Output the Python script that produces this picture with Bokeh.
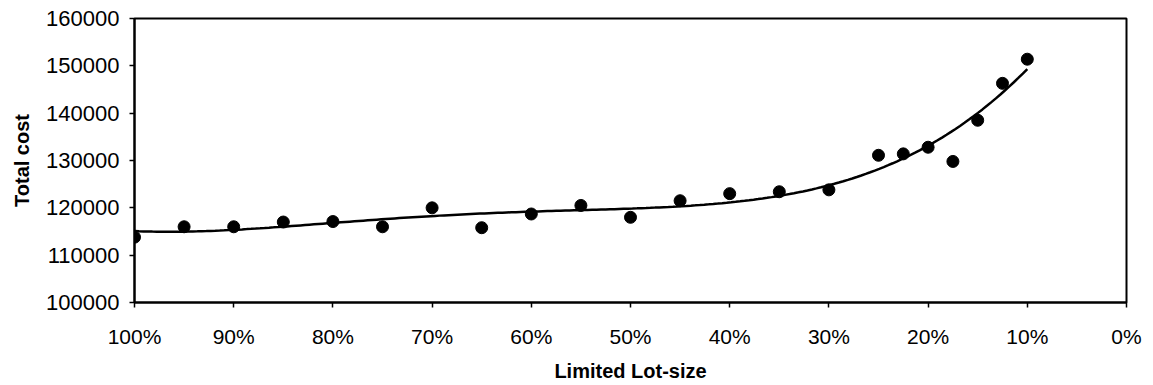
import numpy as np
from bokeh.plotting import figure
from bokeh.models import Range1d, FixedTicker, NumeralTickFormatter, ColumnDataSource
from bokeh.embed import file_html
from bokeh.resources import INLINE

# Lot-size limit (fraction of the unlimited lot size) and resulting total cost
lot_size = [1.00, 0.95, 0.90, 0.85, 0.80, 0.75, 0.70, 0.65, 0.60, 0.55, 0.50,
            0.45, 0.40, 0.35, 0.30, 0.25, 0.225, 0.20, 0.175, 0.15, 0.125, 0.10]
total_cost = [113800, 116000, 116000, 117000, 117100, 116000, 120000, 115800,
              118700, 120500, 118000, 121500, 123000, 123400, 123800, 131100,
              131400, 132800, 129800, 138500, 146300, 151400]

x_ticks = [1.0, 0.9, 0.8, 0.7, 0.6, 0.5, 0.4, 0.3, 0.2, 0.1, 0.0]
y_ticks = [100000, 110000, 120000, 130000, 140000, 150000, 160000]

# 4th-order polynomial trend line fitted to the observations
coef = np.polyfit(lot_size, total_cost, 4)
trend_x = np.linspace(max(lot_size), min(lot_size), 200)
trend_y = np.polyval(coef, trend_x)

FONT = "Liberation Sans"

p = figure(width=1153, height=385, output_backend="svg", toolbar_location=None,
           x_range=Range1d(1.0, 0.0), y_range=Range1d(100000, 160000),
           frame_width=992, frame_height=284,
           min_border_left=134, min_border_right=27,
           min_border_top=18, min_border_bottom=83)

p.line(trend_x, trend_y, line_color="black", line_width=2.5)
p.scatter(x="x", y="y", source=ColumnDataSource(dict(x=lot_size, y=total_cost)),
          size=12, fill_color="black", line_color="black")

p.xgrid.visible = False
p.ygrid.visible = False
p.outline_line_color = "black"
p.outline_line_width = 2
p.background_fill_color = "white"
p.border_fill_color = "white"

for ax in (p.xaxis[0], p.yaxis[0]):
    ax.axis_line_color = "black"
    ax.axis_line_width = 2
    ax.major_tick_line_color = "black"
    ax.major_tick_line_width = 1.5
    ax.major_tick_in = 0
    ax.major_tick_out = 5
    ax.minor_tick_line_color = None
    ax.major_label_text_font = FONT
    ax.major_label_text_font_size = "21px"
    ax.major_label_text_color = "black"
    ax.axis_label_text_font = FONT
    ax.axis_label_text_font_style = "bold"
    ax.axis_label_text_font_size = "20px"
    ax.axis_label_text_color = "black"

p.yaxis.major_label_text_font_size = "22px"

p.xaxis.ticker = FixedTicker(ticks=x_ticks)
p.xaxis.formatter = NumeralTickFormatter(format="0%")
p.xaxis.axis_label = "Limited Lot-size"
p.xaxis.major_label_standoff = 17
p.xaxis.axis_label_standoff = 9

p.yaxis.ticker = FixedTicker(ticks=y_ticks)
p.yaxis.formatter = NumeralTickFormatter(format="0")
p.yaxis.axis_label = "Total cost"
p.yaxis.major_label_standoff = 10
p.yaxis.axis_label_standoff = 10

open("out.html", "w").write(file_html(p, INLINE))
